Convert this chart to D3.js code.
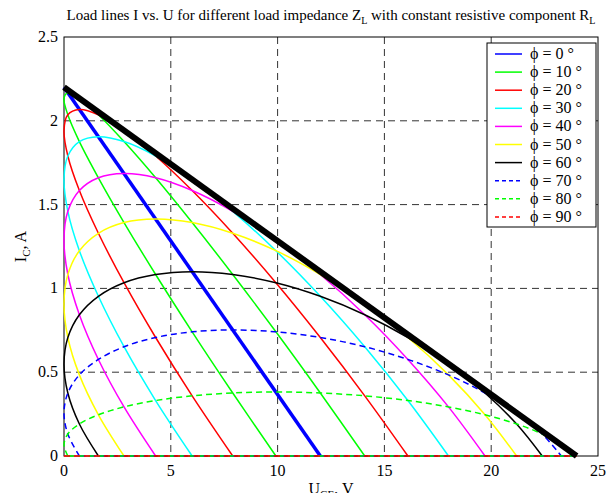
<!DOCTYPE html>
<html>
<head>
<meta charset="utf-8">
<script src="https://cdn.jsdelivr.net/npm/d3@7"></script>
<style>
  body { margin: 0; background: #fff; }
  svg { display: block; }
  text { font-family: 'Liberation Serif', 'Times New Roman', Times, serif; }
</style>
</head>
<body>
<svg width="611" height="493"></svg>
<script>
// phase angles of the load impedance, one curve each
const phiDeg = [0, 10, 20, 30, 40, 50, 60, 70, 80, 90];

// [U_CE (V), I_C (A)] points
const loadLine0 = [[12, 0], [0, 2.2]];
const loadLine10 = [[9.92, 0], [7.90, 0.376], [6.00, 0.741], [4.29, 1.083], [2.81, 1.393], [1.61, 1.660], [0.72, 1.876], [0.18, 2.036], [0, 2.134], [0.18, 2.167], [0.72, 2.134], [1.61, 2.036], [2.81, 1.876], [4.29, 1.660], [6.00, 1.393], [7.90, 1.083], [9.92, 0.741], [12.00, 0.376], [14.08, 0]];
const loadLine20 = [[7.90, 0], [6.00, 0.359], [4.29, 0.707], [2.81, 1.034], [1.61, 1.329], [0.72, 1.584], [0.18, 1.790], [0, 1.943], [0.18, 2.036], [0.72, 2.067], [1.61, 2.036], [2.81, 1.943], [4.29, 1.790], [6.00, 1.584], [7.90, 1.329], [9.92, 1.034], [12.00, 0.707], [14.08, 0.359], [16.10, 0]];
const loadLine30 = [[6.00, 0], [4.29, 0.331], [2.81, 0.652], [1.61, 0.953], [0.72, 1.225], [0.18, 1.460], [0, 1.650], [0.18, 1.790], [0.72, 1.876], [1.61, 1.905], [2.81, 1.876], [4.29, 1.790], [6.00, 1.650], [7.90, 1.460], [9.92, 1.225], [12.00, 0.953], [14.08, 0.652], [16.10, 0.331], [18.00, 0]];
const loadLine40 = [[4.29, 0], [2.81, 0.293], [1.61, 0.576], [0.72, 0.843], [0.18, 1.083], [0, 1.291], [0.18, 1.460], [0.72, 1.584], [1.61, 1.660], [2.81, 1.685], [4.29, 1.660], [6.00, 1.584], [7.90, 1.460], [9.92, 1.291], [12.00, 1.083], [14.08, 0.843], [16.10, 0.576], [18.00, 0.293], [19.71, 0]];
const loadLine50 = [[2.81, 0], [1.61, 0.246], [0.72, 0.484], [0.18, 0.707], [0, 0.909], [0.18, 1.083], [0.72, 1.225], [1.61, 1.329], [2.81, 1.393], [4.29, 1.414], [6.00, 1.393], [7.90, 1.329], [9.92, 1.225], [12.00, 1.083], [14.08, 0.909], [16.10, 0.707], [18.00, 0.484], [19.71, 0.246], [21.19, 0]];
const loadLine60 = [[1.61, 0], [0.72, 0.191], [0.18, 0.376], [0, 0.55], [0.18, 0.707], [0.72, 0.843], [1.61, 0.953], [2.81, 1.034], [4.29, 1.083], [6.00, 1.1], [7.90, 1.083], [9.92, 1.034], [12.00, 0.953], [14.08, 0.843], [16.10, 0.707], [18.00, 0.55], [19.71, 0.376], [21.19, 0.191], [22.39, 0]];
const loadLine70 = [[0.72, 0], [0.18, 0.131], [0, 0.257], [0.18, 0.376], [0.72, 0.484], [1.61, 0.576], [2.81, 0.652], [4.29, 0.707], [6.00, 0.741], [7.90, 0.752], [9.92, 0.741], [12.00, 0.707], [14.08, 0.652], [16.10, 0.576], [18.00, 0.484], [19.71, 0.376], [21.19, 0.257], [22.39, 0.131], [23.28, 0]];
const loadLine80 = [[0.18, 0], [0, 0.066], [0.18, 0.131], [0.72, 0.191], [1.61, 0.246], [2.81, 0.293], [4.29, 0.331], [6.00, 0.359], [7.90, 0.376], [9.92, 0.382], [12.00, 0.376], [14.08, 0.359], [16.10, 0.331], [18.00, 0.293], [19.71, 0.246], [21.19, 0.191], [22.39, 0.131], [23.28, 0.066], [23.82, 0]];
const loadLine90 = [[0, 0], [24, 0]];
const loadLines = [loadLine0, loadLine10, loadLine20, loadLine30, loadLine40, loadLine50, loadLine60, loadLine70, loadLine80, loadLine90];

// common tangent of all curves (supply line)
const envelope = [[0, 2.2], [24, 0]];
const supplyEnd = 24;

// axis ticks
const xTicks = [0, 5, 10, 15, 20, 25];
const yTicks = [0, 0.5, 1, 1.5, 2, 2.5];

// line styles, MATLAB order
const lineColor = ["#0000ff", "#00ff00", "#ff0000", "#00ffff", "#ff00ff", "#ffff00", "#000000", "#0000ff", "#00ff00", "#ff0000"];
const isDashed = phi => phi >= 70;

const FONT = "'Liberation Serif', 'Times New Roman', Times, serif";

const svg = d3.select("svg");
const width = 611, height = 493;
const margin = { top: 37, right: 13, bottom: 37, left: 64 };
const innerWidth = width - margin.left - margin.right;
const innerHeight = height - margin.top - margin.bottom;

const x = d3.scaleLinear().domain([0, 25]).range([0, innerWidth]);
const y = d3.scaleLinear().domain([0, 2.5]).range([innerHeight, 0]);

svg.append("rect").attr("width", width).attr("height", height).attr("fill", "#fff");

const g = svg.append("g").attr("transform", `translate(${margin.left},${margin.top})`);

// grid
g.selectAll(".gx").data(xTicks.slice(1, -1)).enter().append("line")
  .attr("x1", d => x(d)).attr("x2", d => x(d))
  .attr("y1", 0).attr("y2", innerHeight)
  .attr("stroke", "#333").attr("stroke-width", 1).attr("stroke-dasharray", "7,5");
g.selectAll(".gy").data(yTicks.slice(1, -1)).enter().append("line")
  .attr("x1", 0).attr("x2", innerWidth)
  .attr("y1", d => y(d)).attr("y2", d => y(d))
  .attr("stroke", "#333").attr("stroke-width", 1).attr("stroke-dasharray", "7,5");

// axes box
g.append("rect").attr("width", innerWidth).attr("height", innerHeight)
  .attr("fill", "none").attr("stroke", "#000").attr("stroke-width", 1);

const line = d3.line().x(d => x(d[0])).y(d => y(d[1]));
const smooth = d3.line().curve(d3.curveCatmullRom.alpha(0.5)).x(d => x(d[0])).y(d => y(d[1]));

// curves, each followed by its I = 0 part
phiDeg.forEach((phi, i) => {
  const pts = loadLines[i];
  const col = lineColor[i];
  const dash = isDashed(phi) ? "6,4" : null;
  const w = phi === 0 ? 3.5 : 1.5;
  if (phi < 90) {
    g.append("path").attr("d", line([[pts[0][0], 0], [supplyEnd, 0]]))
      .attr("fill", "none").attr("stroke", col).attr("stroke-width", 1.5)
      .attr("stroke-dasharray", dash);
  }
  g.append("path").attr("d", (phi === 0 || phi === 90) ? line(pts) : smooth(pts))
    .attr("fill", "none").attr("stroke", col).attr("stroke-width", phi === 90 ? 1.5 : w)
    .attr("stroke-dasharray", dash);
});

// thick supply line
g.append("path").attr("d", line(envelope))
  .attr("fill", "none").attr("stroke", "#000").attr("stroke-width", 6);

// tick labels
g.selectAll(".xt").data(xTicks).enter().append("text")
  .attr("font-family", FONT)
  .attr("x", d => x(d)).attr("y", innerHeight + 20)
  .attr("text-anchor", "middle").attr("font-size", "16px").text(d => d);
g.selectAll(".yt").data(yTicks).enter().append("text")
  .attr("font-family", FONT)
  .attr("x", -6).attr("y", d => y(d) + 5)
  .attr("text-anchor", "end").attr("font-size", "16px").text(d => d);

// title
const title = svg.append("text").attr("x", margin.left + innerWidth / 2).attr("y", 20)
  .attr("font-family", FONT).attr("text-anchor", "middle").attr("font-size", "15px");
title.append("tspan").text("Load lines I vs. U for different load impedance Z");
title.append("tspan").attr("dy", 4).attr("font-size", "10px").text("L");
title.append("tspan").attr("dy", -4).text(" with constant resistive component R");
title.append("tspan").attr("dy", 4).attr("font-size", "10px").text("L");

// axis labels
const xl = svg.append("text").attr("x", margin.left + innerWidth / 2).attr("y", 494)
  .attr("font-family", FONT).attr("text-anchor", "middle").attr("font-size", "16px");
xl.append("tspan").text("U");
xl.append("tspan").attr("dy", 4).attr("font-size", "11px").text("CE");
xl.append("tspan").attr("dy", -4).text(", V");

const yl = svg.append("text")
  .attr("transform", `translate(26,${margin.top + innerHeight / 2}) rotate(-90)`)
  .attr("font-family", FONT).attr("text-anchor", "middle").attr("font-size", "16px");
yl.append("tspan").text("I");
yl.append("tspan").attr("dy", 4).attr("font-size", "11px").text("C");
yl.append("tspan").attr("dy", -4).text(", A");

// legend
const legend = svg.append("g").attr("transform", "translate(487,43)");
legend.append("rect").attr("width", 109).attr("height", 184)
  .attr("fill", "#fff").attr("stroke", "#000").attr("stroke-width", 1);
const rows = legend.selectAll(".row").data(phiDeg).enter().append("g")
  .attr("transform", (d, i) => `translate(0,${11 + i * 18.1})`);
rows.append("line").attr("x1", 8).attr("x2", 35).attr("y1", 0).attr("y2", 0)
  .attr("stroke", (d, i) => lineColor[i]).attr("stroke-width", 1.5)
  .attr("stroke-dasharray", d => isDashed(d) ? "4,3" : null);
rows.append("text").attr("x", 43).attr("y", 5).attr("font-size", "16px")
  .attr("font-family", FONT)
  .text(d => `\u03d5 = ${d} \u00b0`);
</script>
</body>
</html>
